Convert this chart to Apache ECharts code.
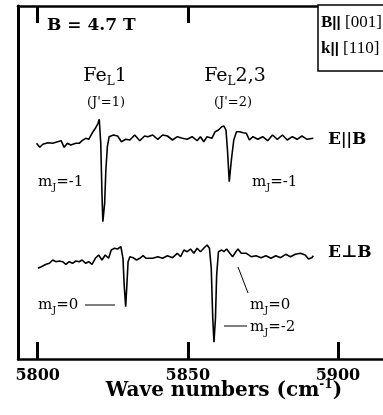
<!DOCTYPE html>
<html>
<head>
<meta charset="utf-8">
<script src="https://cdn.jsdelivr.net/npm/echarts@6/dist/echarts.min.js"></script>
<style>html,body{margin:0;padding:0;background:#fff}#c{width:383px;height:415px}</style>
</head>
<body>
<div id="c"></div>
<script>
// E || B trace (wavenumber cm^-1, offset absorbance, arb. units)
const wnPar = [5799.6,5800.7,5801.7,5803.4,5805.0,5806.6,5807.8,5808.8,5809.9,5811.0,5812.7,5813.8,5814.8,5816.0,5817.0,5818.1,5819.2,5820.1,5820.5,5821.0,5821.4,5821.7,5822.3,5822.7,5823.2,5823.8,5825.2,5826.6,5827.9,5829.3,5830.7,5832.3,5834.0,5835.6,5836.7,5838.3,5840.0,5841.6,5843.2,5844.9,5846.5,5848.2,5849.8,5851.4,5853.1,5854.2,5855.3,5856.4,5858.0,5859.1,5860.2,5861.3,5862.0,5862.7,5863.2,5863.8,5864.5,5865.3,5866.2,5867.3,5868.4,5869.5,5870.5,5871.7,5873.3,5874.9,5876.6,5878.2,5879.8,5881.5,5883.1,5884.8,5886.4,5888.0,5889.7,5891.8];
const sigPar = [215.7,211.7,214.7,216.3,215.7,217.3,218.3,211.7,215.7,214,215.7,215.7,218.3,220.7,219.7,225.7,230.7,235.7,239.7,215.7,165.7,137.3,155.7,189,212.3,222.3,224,223,217.3,219.7,219,224,218.3,223,222.3,224,219.7,224,223,219,222.3,220.7,219.7,222.3,218.3,222.3,217.3,222.3,220.7,227.3,229,232.3,233,229,209,177.3,199,219,227.3,227.3,226.3,225.7,219,222.3,219.7,222.3,218.3,224,219.7,224,219,222.3,219.7,223,219.7,220.7];
// E ⊥ B trace
const wnPerp = [5800.1,5801.2,5802.8,5803.9,5805.0,5806.1,5807.2,5808.3,5809.4,5810.5,5811.6,5812.7,5813.8,5814.8,5816.0,5817.0,5818.1,5819.2,5820.3,5821.4,5822.5,5823.6,5824.5,5825.6,5826.6,5827.7,5828.4,5828.8,5829.3,5829.7,5830.1,5830.7,5831.8,5832.9,5834.0,5835.1,5836.1,5836.7,5838.3,5840.0,5841.6,5843.2,5844.9,5846.5,5847.6,5848.7,5849.8,5850.9,5852.0,5853.1,5854.2,5855.3,5856.4,5857.2,5857.8,5858.3,5858.7,5859.2,5859.6,5860.2,5861.3,5862.0,5862.9,5864.0,5864.9,5866.0,5866.7,5867.8,5869.5,5871.1,5872.7,5874.4,5876.0,5877.7,5879.3,5880.9,5882.6,5884.2,5885.8,5887.5,5889.1,5890.2,5891.3,5891.8];
const sigPerp = [90.7,92.3,94.7,95.7,99,97.3,98,97.3,94.7,97.3,95.7,98,97.3,99,95.7,97.3,94.7,100.7,104,99,104,100.7,109,110.7,110,112.3,100.7,74,52.3,74,97.3,102.3,101.3,99,100.7,103.3,100.7,101.3,100.7,102.3,100.7,103.3,101.3,105.7,102.3,109,107.3,110,105.7,110.7,107.3,110.7,114,110.7,90.7,40.7,16.7,40.7,84,107.3,109,107.3,110,105.7,102.3,107.3,110,105.7,105.7,102.3,103.3,101.3,103.3,100.7,103.3,101.3,104.7,102.3,104.7,105.7,104,100,101.3,103.3];
const xTicks = [5800, 5850, 5900];

const FONT = "'DejaVu Serif', serif";
const LFONT = "'Liberation Serif', serif";
const zip = (a, b) => a.map((v, i) => [v, b[i]]);
const chart = echarts.init(document.getElementById('c'), null, {renderer: 'canvas'});

const axisCommon = {
  type: 'value', min: 5793.44, max: 5915,
  axisLine: {show: true, onZero: false, lineStyle: {color: '#000', width: 2.5}},
  axisTick: {show: true, inside: true, length: 17, customValues: xTicks, lineStyle: {color: '#000', width: 3}},
  splitLine: {show: false}
};
const mj = (x, y, t) => ({type: 'text', z: 101, style: {x: x, y: y, text: '{a|m}{s|J}{a|' + t + '}', textVerticalAlign: 'middle', fill: '#000',
  rich: {a: {fontFamily: FONT, fontSize: 15, lineHeight: 20}, s: {fontFamily: FONT, fontSize: 10, lineHeight: 20, verticalAlign: 'bottom'}}}});
const feRich = {a: {fontFamily: FONT, fontSize: 19, lineHeight: 24, verticalAlign: 'middle'}, s: {fontFamily: FONT, fontSize: 12, lineHeight: 24, verticalAlign: 'bottom'}};
const boxRich = {b: {fontFamily: LFONT, fontWeight: 'bold', fontSize: 17}, s: {fontFamily: "'Liberation Sans'", fontWeight: 'bold', fontSize: 15}, r: {fontFamily: LFONT, fontSize: 17}};

chart.setOption({
  animation: false,
  backgroundColor: '#fff',
  grid: {left: 18, right: -6, top: 6, bottom: 56, containLabel: false},
  xAxis: [
    Object.assign({}, axisCommon, {
      position: 'bottom',
      axisLabel: {show: true, customValues: xTicks, margin: 9, color: '#000', fontFamily: FONT, fontWeight: 'bold', fontSize: 16,
        formatter: v => String(v)}
    }),
    Object.assign({}, axisCommon, {position: 'top', axisLabel: {show: false}})
  ],
  yAxis: {
    type: 'value', min: 0, max: 353,
    axisLine: {show: true, lineStyle: {color: '#000', width: 3}},
    axisTick: {show: false}, axisLabel: {show: false}, splitLine: {show: false}
  },
  series: [
    {name: 'E||B', type: 'line', data: zip(wnPar, sigPar), showSymbol: false, symbol: 'none', lineStyle: {color: '#000', width: 1.6}},
    {name: 'E⊥B', type: 'line', data: zip(wnPerp, sigPerp), showSymbol: false, symbol: 'none', lineStyle: {color: '#000', width: 1.6}}
  ],
  graphic: [
    {type: 'rect', shape: {x: 318, y: 5, width: 70, height: 66}, style: {fill: '#fff', stroke: '#000', lineWidth: 1.5}, z: 100},
    {type: 'text', z: 101, style: {x: 321, y: 23, text: '{b|B}{s|||}{r| [001]}', textVerticalAlign: 'middle', fill: '#000', rich: boxRich}},
    {type: 'text', z: 101, style: {x: 321, y: 49, text: '{b|k}{s|||}{r| [110]}', textVerticalAlign: 'middle', fill: '#000', rich: boxRich}},
    {type: 'text', z: 101, style: {x: 47, y: 26, text: 'B = 4.7 T', textVerticalAlign: 'middle', font: "bold 17px " + FONT, fill: '#000'}},
    {type: 'text', z: 101, style: {x: 105, y: 76, text: '{a|Fe}{s|L}{a|1}', textAlign: 'center', textVerticalAlign: 'middle', fill: '#000', rich: feRich}},
    {type: 'text', z: 101, style: {x: 106, y: 103, text: "(J'=1)", textAlign: 'center', textVerticalAlign: 'middle', font: "13px " + FONT, fill: '#000'}},
    {type: 'text', z: 101, style: {x: 235, y: 76, text: '{a|Fe}{s|L}{a|2,3}', textAlign: 'center', textVerticalAlign: 'middle', fill: '#000', rich: feRich}},
    {type: 'text', z: 101, style: {x: 233, y: 103, text: "(J'=2)", textAlign: 'center', textVerticalAlign: 'middle', font: "13px " + FONT, fill: '#000'}},
    {type: 'text', z: 101, style: {x: 328, y: 140, text: '{b|E}{s|||}{b|B}', textVerticalAlign: 'middle', fill: '#000',
      rich: {b: {fontFamily: FONT, fontWeight: 'bold', fontSize: 17}, s: {fontFamily: "'DejaVu Sans'", fontWeight: 'bold', fontSize: 15}}}},
    {type: 'text', z: 101, style: {x: 328, y: 253, text: 'E⊥B', textVerticalAlign: 'middle', font: "bold 17px " + FONT, fill: '#000'}},
    mj(38, 182, '=-1'),
    mj(252, 182, '=-1'),
    mj(38, 305, '=0'),
    {type: 'line', z: 101, shape: {x1: 85, y1: 305, x2: 115, y2: 305}, style: {stroke: '#000', lineWidth: 1}},
    mj(250, 305, '=0'),
    {type: 'line', z: 101, shape: {x1: 238, y1: 267, x2: 248, y2: 293}, style: {stroke: '#000', lineWidth: 1}},
    mj(250, 327, '=-2'),
    {type: 'line', z: 101, shape: {x1: 224, y1: 326, x2: 247, y2: 326}, style: {stroke: '#000', lineWidth: 1}},
    {type: 'text', z: 101, style: {x: 224, y: 391, text: 'Wave numbers (cm{p|-1})', textAlign: 'center', textVerticalAlign: 'middle', font: "bold 20px " + FONT, fill: '#000',
      rich: {p: {fontFamily: FONT, fontWeight: 'bold', fontSize: 12, verticalAlign: 'top', lineHeight: 24}}}}
  ]
});
</script>
</body>
</html>
